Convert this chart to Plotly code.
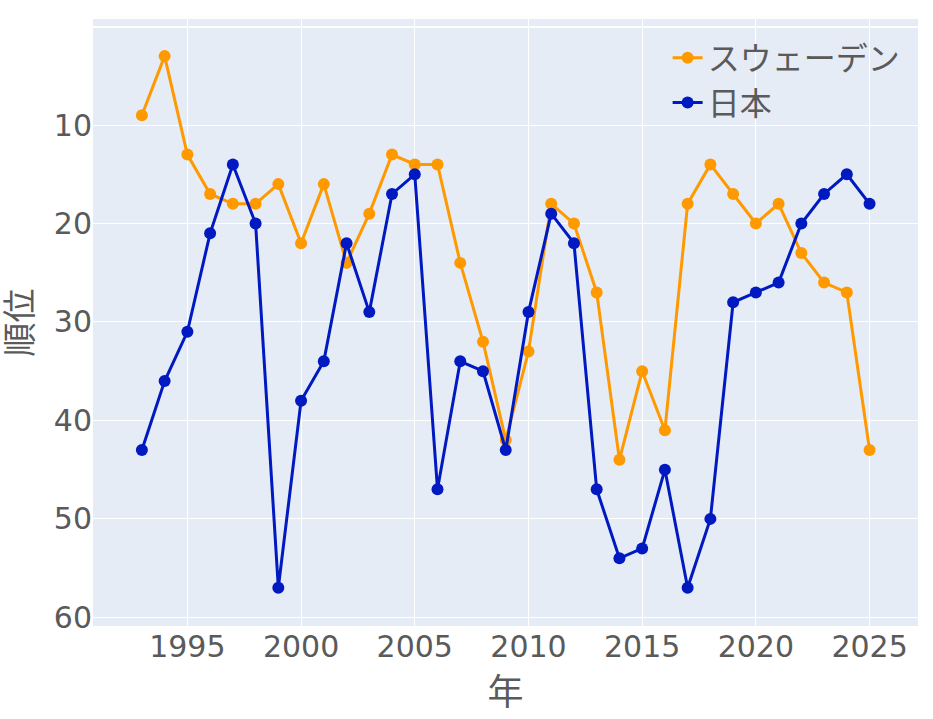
import plotly.graph_objects as go

years = list(range(1993, 2026))
sweden = [9, 3, 13, 17, 18, 18, 16, 22, 16, 24, 19, 13, 14, 14, 24, 32, 42, 33,
          18, 20, 27, 44, 35, 41, 18, 14, 17, 20, 18, 23, 26, 27, 43]
japan = [43, 36, 31, 21, 14, 20, 57, 38, 34, 22, 29, 17, 15, 47, 34, 35, 43, 29,
         19, 22, 47, 54, 53, 45, 57, 50, 28, 27, 26, 20, 17, 15, 18]
series_names = ["スウェーデン", "日本"]
y_ticks = [10, 20, 30, 40, 50, 60]
x_ticks = [1995, 2000, 2005, 2010, 2015, 2020, 2025]

fig = go.Figure()
fig.add_trace(go.Scatter(x=years, y=sweden, mode="lines+markers", name=series_names[0],
                         line=dict(color="#FF9900", width=3), marker=dict(size=12)))
fig.add_trace(go.Scatter(x=years, y=japan, mode="lines+markers", name=series_names[1],
                         line=dict(color="#0019C0", width=3), marker=dict(size=12)))

fig.update_layout(
    width=933, height=719,
    template="plotly",
    font=dict(family="DejaVu Sans, Noto Sans CJK JP", size=30, color="#5a5a5a"),
    margin=dict(l=93, r=15, t=19, b=93, autoexpand=False),
    xaxis=dict(title=dict(text="年", standoff=16), range=[1990.85, 2027.13],
               tickvals=x_ticks),
    yaxis=dict(title=dict(text="順位", font=dict(size=34)), range=[60.88, -0.77], tickvals=y_ticks),
    legend=dict(x=0.985, xanchor="right", y=0.981, yanchor="top", bgcolor="rgba(0,0,0,0)",
                font=dict(size=32)),
)
fig.write_html("out.html")
